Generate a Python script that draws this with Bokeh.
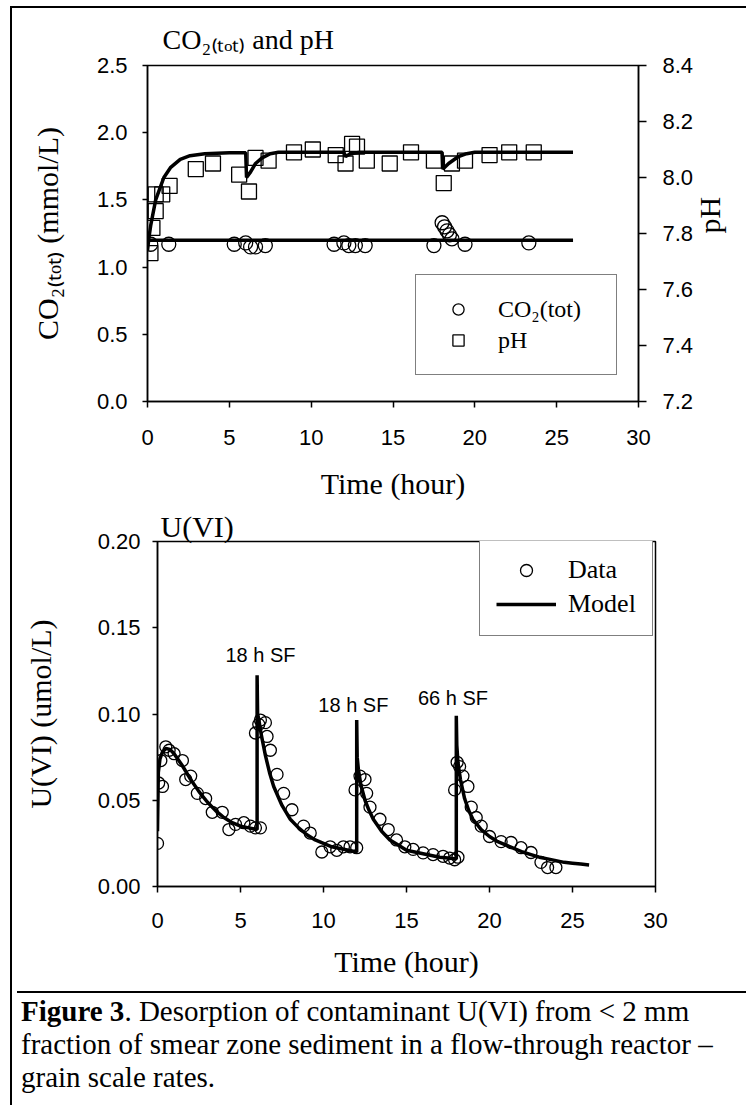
import math
from bokeh.plotting import figure
from bokeh.models import (Range1d, LinearAxis, FixedTicker, PrintfTickFormatter, Title,
                          Legend, LegendItem, Div)
from bokeh.layouts import column
from bokeh.embed import file_html
from bokeh.resources import INLINE
from bokeh.core.properties import value

SERIF = "Liberation Serif"
SANS = "Liberation Sans"

# ---------------- data: top panel (CO2(tot) and pH) ----------------
x_ticks = [0, 5, 10, 15, 20, 25, 30]
co2_ticks = [0.0, 0.5, 1.0, 1.5, 2.0, 2.5]
ph_ticks = [7.2, 7.4, 7.6, 7.8, 8.0, 8.2, 8.4]

co2_t = [0.2, 1.3, 5.3, 6.0, 6.3, 6.6, 7.2, 11.4, 12.0, 12.3, 12.7, 13.3,
         17.5, 18.0, 18.15, 18.3, 18.45, 18.6, 19.4, 23.3]
co2_v = [1.17, 1.17, 1.17, 1.18, 1.15, 1.15, 1.16, 1.17, 1.18, 1.16, 1.16, 1.16,
         1.16, 1.33, 1.30, 1.27, 1.24, 1.21, 1.17, 1.18]

ph_t = [0.18, 0.3, 0.5, 0.5, 0.9, 1.35, 2.95, 4.0, 5.6, 6.2, 6.6, 7.4, 8.95, 10.1,
        11.5, 12.1, 12.5, 12.8, 13.4, 14.8, 16.1, 17.5, 18.1, 18.6, 19.4, 20.9, 22.1, 23.6]
ph_v = [7.73, 7.82, 7.88, 7.94, 7.94, 7.97, 8.03, 8.05, 8.01, 7.95, 8.07, 8.06, 8.09, 8.10,
        8.08, 8.05, 8.12, 8.11, 8.06, 8.05, 8.09, 8.06, 7.98, 8.05, 8.06, 8.08, 8.09, 8.09]

co2_model_t = [0.0, 26.0]
co2_model_v = [1.2, 1.2]

ph_model_t = [0.0, 0.1, 0.2, 0.3, 0.5, 0.75, 1.0, 1.4, 2.0, 2.6, 3.5, 5.0, 6.0, 6.05, 6.3,
              6.6, 7.0, 7.5, 8.0, 12.0, 12.1, 12.4, 13.0, 18.0, 18.05, 18.4, 19.0, 19.5,
              20.0, 26.0]
ph_model_v = [7.74, 7.79, 7.83, 7.86, 7.92, 7.96, 8.00, 8.035, 8.065, 8.078, 8.085, 8.088,
              8.088, 8.00, 8.02, 8.05, 8.07, 8.085, 8.09, 8.09, 8.075, 8.085, 8.09, 8.09,
              8.03, 8.05, 8.075, 8.085, 8.09, 8.09]

# ---------------- data: bottom panel (U(VI)) ----------------
u_ticks = [0.0, 0.05, 0.10, 0.15, 0.20]

u_t = [0.0, 0.07, 0.3, 0.2, 0.5, 0.7, 1.0, 1.5, 1.7, 2.0, 2.4, 2.9, 3.3, 3.9, 4.3, 4.7,
       5.2, 5.6, 5.9, 6.2,
       5.9, 6.1, 6.2, 6.5, 6.6, 6.8, 7.2, 7.6, 8.1, 8.8, 9.2, 9.9, 10.4, 10.8, 11.2,
       11.6, 12.0,
       11.9, 12.2, 12.5, 12.6, 12.8, 13.4, 13.9, 14.4, 14.9, 15.4, 16.0, 16.6, 17.2,
       17.6, 17.9, 18.1,
       17.9, 18.05, 18.2, 18.4, 18.7, 18.9, 19.2, 19.5, 20.0, 20.7, 21.3, 21.9, 22.5,
       23.1, 23.5, 24.0]
u_v = [0.025, 0.060, 0.058, 0.073, 0.081, 0.079, 0.077, 0.073, 0.062, 0.064, 0.054, 0.051,
       0.043, 0.043, 0.033, 0.036, 0.037, 0.035, 0.034, 0.034,
       0.089, 0.094, 0.0965, 0.095, 0.087, 0.079, 0.065, 0.054, 0.0445, 0.035, 0.031,
       0.020, 0.023, 0.021, 0.023, 0.023, 0.0225,
       0.056, 0.064, 0.062, 0.054, 0.046, 0.039, 0.033, 0.027, 0.023, 0.0215, 0.0195,
       0.0185, 0.0175, 0.0165, 0.0155, 0.017,
       0.056, 0.072, 0.0695, 0.064, 0.058, 0.046, 0.040, 0.035, 0.029, 0.026, 0.0255,
       0.0225, 0.0197, 0.014, 0.011, 0.011]

um_t = [0.0, 0.05, 0.15, 0.3, 0.5, 0.75, 1.0, 1.5, 2.0, 2.5, 3.0, 3.5, 4.0, 4.5, 5.0, 5.5, 6.0,
        6.0, 6.03, 6.1, 6.25, 6.5, 6.75, 7.0, 7.5, 8.0, 8.5, 9.0, 9.5, 10.0, 10.5, 11.0,
        11.5, 12.0,
        12.0, 12.03, 12.1, 12.25, 12.5, 12.75, 13.0, 13.5, 14.0, 14.5, 15.0, 15.5, 16.0,
        16.5, 17.0, 17.5, 18.0,
        18.0, 18.03, 18.1, 18.25, 18.5, 18.75, 19.0, 19.5, 20.0, 20.5, 21.0, 21.5, 22.0,
        22.5, 23.0, 23.5, 24.0, 24.5, 25.0, 25.5, 26.0]
um_v = [0.032, 0.066, 0.074, 0.078, 0.080, 0.0795, 0.077, 0.070, 0.062, 0.055, 0.049, 0.044,
        0.040, 0.037, 0.035, 0.034, 0.033,
        0.1225, 0.100, 0.097, 0.088, 0.076, 0.066, 0.058, 0.047, 0.039, 0.034, 0.030, 0.027,
        0.025, 0.023, 0.022, 0.021, 0.020,
        0.0965, 0.075, 0.068, 0.059, 0.050, 0.044, 0.039, 0.032, 0.027, 0.024, 0.021, 0.020,
        0.019, 0.018, 0.017, 0.0165, 0.016,
        0.099, 0.082, 0.072, 0.062, 0.051, 0.044, 0.039, 0.033, 0.029, 0.026, 0.024, 0.022,
        0.020, 0.0185, 0.017, 0.016, 0.015, 0.014, 0.0135, 0.013, 0.0125]

ann_x = [6.2, 11.8, 17.8]
ann_y = [0.134, 0.105, 0.109]
ann_text = ["18 h SF", "18 h SF", "66 h SF"]


def style_axis(ax, ticks, fmt, tick_out, standoff):
    ax.ticker = FixedTicker(ticks=ticks)
    ax.formatter = PrintfTickFormatter(format=fmt)
    ax.major_tick_out = tick_out
    ax.major_tick_in = 0
    ax.minor_tick_out = 0
    ax.minor_tick_in = 0
    ax.major_tick_line_color = "black"
    ax.major_tick_line_width = 1.5
    ax.axis_line_color = "black"
    ax.axis_line_width = 1.5
    ax.major_label_text_font = SANS
    ax.major_label_text_font_size = "22px"
    ax.major_label_text_color = "black"
    ax.major_label_standoff = standoff


def axlabel(ax, text, standoff):
    ax.axis_label = text
    ax.axis_label_text_font = SERIF
    ax.axis_label_text_font_size = "30px"
    ax.axis_label_text_font_style = "normal"
    ax.axis_label_text_color = "black"
    ax.axis_label_standoff = standoff


def plain(p):
    p.xgrid.visible = False
    p.ygrid.visible = False
    p.outline_line_color = "black"
    p.outline_line_width = 1.5
    if "frame_align" in p.properties():
        p.frame_align = False


# ---------------- top figure ----------------
p1 = figure(width=734, height=501, title=None, x_range=Range1d(0, 30), y_range=Range1d(0, 2.5),
            output_backend="svg", toolbar_location=None,
            min_border_left=135, min_border_right=108, min_border_top=57, min_border_bottom=108)
p1.extra_y_ranges = {"ph": Range1d(7.2, 8.4)}
plain(p1)

style_axis(p1.xaxis[0], x_ticks, "%d", 6, 22)
axlabel(p1.xaxis[0], "Time (hour)", 19)
style_axis(p1.yaxis[0], co2_ticks, "%.1f", 5, 15)
axlabel(p1.yaxis[0], "CO₂₍ₜₒₜ₎ (mmol/L)", 30)
ax_r = LinearAxis(y_range_name="ph")
style_axis(ax_r, ph_ticks, "%.1f", 8, 16)
axlabel(ax_r, "pH", 13)
if "axis_label_orientation" in ax_r.properties():
    ax_r.axis_label_orientation = math.pi / 2
p1.add_layout(ax_r, "right")

p1.add_layout(Title(text="CO₂₍ₜₒₜ₎ and pH", text_font=SERIF, text_font_size="28px",
                    text_font_style="normal", text_color="black", align="left",
                    offset=15, standoff=22), "above")

p1.line(co2_model_t, co2_model_v, line_color="black", line_width=3.5)
p1.line(ph_model_t, ph_model_v, line_color="black", line_width=3.5, y_range_name="ph")
r_co2 = p1.scatter(co2_t, co2_v, marker="circle", size=14, line_color="black",
                   fill_color=None, line_width=1.3)
r_ph = p1.scatter(ph_t, ph_v, marker="square", size=15, line_color="black",
                  fill_color=None, line_width=1.3, y_range_name="ph")

leg1 = Legend(items=[LegendItem(label="CO₂(tot)", renderers=[r_co2]),
                     LegendItem(label="pH", renderers=[r_ph])],
              location=(268, 26), orientation="vertical",
              border_line_color="black", border_line_width=1.5, background_fill_color="white",
              background_fill_alpha=1.0, padding=20, spacing=3, margin=0,
              glyph_width=44, glyph_height=28, label_standoff=18, label_width=98, label_height=28,
              label_text_font=SERIF, label_text_font_size="24px", label_text_color="black")
p1.add_layout(leg1)

# ---------------- bottom figure ----------------
p2 = figure(width=734, height=477, title=None, x_range=Range1d(0, 30), y_range=Range1d(0, 0.2),
            output_backend="svg", toolbar_location=None,
            min_border_left=145, min_border_right=91, min_border_top=32, min_border_bottom=100)
plain(p2)
style_axis(p2.xaxis[0], x_ticks, "%d", 6, 20)
axlabel(p2.xaxis[0], "Time (hour)", 14)
style_axis(p2.yaxis[0], u_ticks, "%.2f", 5, 12)
axlabel(p2.yaxis[0], "U(VI) (umol/L)", 38)

p2.add_layout(Title(text="U(VI)", text_font=SERIF, text_font_size="30px",
                    text_font_style="normal", text_color="black", align="left",
                    offset=3, standoff=-3), "above")

r_model = p2.line(um_t, um_v, line_color="black", line_width=3.5)
r_data = p2.scatter(u_t, u_v, marker="circle", size=12, line_color="black",
                    fill_color=None, line_width=1.3)
p2.text(x=ann_x, y=ann_y, text=ann_text, text_font=value(SANS), text_font_size="20px",
        text_align="center", text_baseline="middle", text_color="black")

leg2 = Legend(items=[LegendItem(label="Data", renderers=[r_data]),
                     LegendItem(label="Model", renderers=[r_model])],
              location=(322, 250), orientation="vertical",
              border_line_color="black", border_line_width=1.5, background_fill_color="white",
              background_fill_alpha=1.0, padding=16, spacing=4, margin=0,
              glyph_width=60, glyph_height=30, label_standoff=12, label_width=68, label_height=30,
              label_text_font=SERIF, label_text_font_size="26px", label_text_color="black")
p2.add_layout(leg2)

caption = Div(text=('<b>Figure 3</b>. Desorption of contaminant U(VI) from &lt; 2 mm<br>'
                    'fraction of smear zone sediment in a flow-through reactor &ndash;<br>'
                    'grain scale rates.'),
              width=734, height=119,
              styles={"font-family": "'Liberation Serif', serif", "font-size": "29px",
                      "line-height": "33px", "border-top": "2px solid black",
                      "padding": "2px 0 0 4px", "color": "black", "white-space": "nowrap",
                      "box-sizing": "border-box", "overflow": "hidden"})

layout = column(p1, p2, caption, margin=(6, 0, 0, 10),
                styles={"border-left": "2px solid black", "border-top": "2px solid black"})

open("out.html", "w").write(file_html(layout, INLINE))
